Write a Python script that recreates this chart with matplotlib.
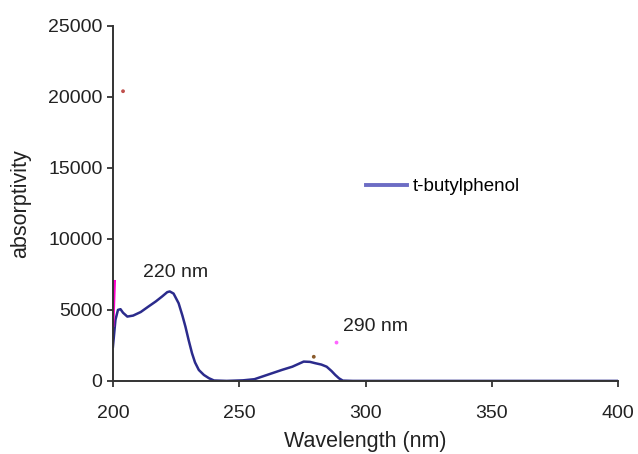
import matplotlib
matplotlib.use("Agg")
import matplotlib.pyplot as plt

plt.rcParams['font.family'] = ['Liberation Sans', 'DejaVu Sans']

# t-butylphenol spectrum
wavelength = [200, 201, 202, 203, 204, 205.7, 208, 211, 214, 217, 219.5, 221.5, 222.5,
              224, 226, 227.5, 228.7, 230, 231.3, 232.5, 234, 236, 238, 240, 245, 251.5,
              256, 259, 263, 267, 271, 273.5, 275.5, 278, 280, 282.5, 284.6, 286.5,
              288, 289.5, 291, 295, 300, 320, 350, 380, 400]
absorptivity = [2400, 4300, 5000, 5050, 4800, 4530, 4600, 4850, 5230, 5600, 5950, 6250, 6300,
                6150, 5470, 4600, 3820, 2850, 1950, 1300, 770, 420, 190, 30, 0, 40,
                120, 300, 540, 780, 1000, 1200, 1360, 1340, 1250, 1150, 1000, 700,
                420, 180, 20, 0, 0, 0, 0, 0, 0]

# second (unlabelled) series at the start
wl2 = [200, 200.6]
ab2 = [3900, 7000]

# stray marks
speck_x = [204, 279.5, 288.5]
speck_y = [20400, 1700, 2700]
speck_c = ['#c0504d', '#8a5a2a', '#ff66ff']

fig = plt.figure(figsize=(6.38, 4.54), dpi=100)
ax = fig.add_axes([0.177, 0.161, 0.792, 0.782])

ax.plot(wavelength, absorptivity, color='#2b2b8c', lw=1.8, label='t-butylphenol')
ax.plot(wl2, ab2, color='#ff00cc', lw=2.2, label='_nolegend_')
ax.scatter(speck_x, speck_y, s=3, c=speck_c, zorder=3)

ax.set_xlim(200, 400)
ax.set_ylim(0, 25000)
ax.set_xticks([200, 250, 300, 350, 400])
ax.set_yticks([0, 5000, 10000, 15000, 20000, 25000])
for s in ['top', 'right']:
    ax.spines[s].set_visible(False)
for s in ['left', 'bottom']:
    ax.spines[s].set_color('#333333')
    ax.spines[s].set_linewidth(1.4)
ax.tick_params(axis='both', labelsize=14, colors='#333333', labelcolor='#222222',
               length=4, width=1.3, direction='out')
ax.tick_params(axis='x', pad=13)

ax.set_xlabel('Wavelength (nm)', fontsize=15.5, color='#222222', labelpad=7)
ax.set_ylabel('absorptivity', fontsize=15.5, color='#222222', labelpad=12)

ax.text(212, 7600, '220 nm', fontsize=14, color='#222222', va='center')
ax.text(291, 3850, '290 nm', fontsize=14, color='#222222', va='center')

leg = ax.legend(loc='center left', bbox_to_anchor=(0.486, 0.547), frameon=False,
                fontsize=13.5, handlelength=2.2, handletextpad=0.3, borderaxespad=0)
for l in leg.get_lines():
    l.set_color('#6c6cc4')
    l.set_linewidth(2.8)

fig.savefig('out.png', dpi=100)
